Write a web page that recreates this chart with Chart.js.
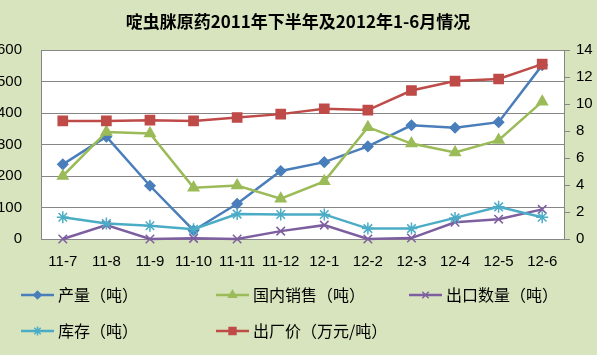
<!DOCTYPE html>
<html>
<head>
<meta charset="utf-8">
<script src="https://cdn.jsdelivr.net/npm/chart.js@4.4.1/dist/chart.umd.min.js"></script>
<style>
html,body{margin:0;padding:0;background:#D7E4BD;}
#wrap{width:597px;height:355px;position:relative;}
</style>
</head>
<body>
<div id="wrap"><canvas id="c" width="597" height="355"></canvas></div>
<script>
const titleText = '啶虫脒原药2011年下半年及2012年1-6月情况';
const months = ['11-7','11-8','11-9','11-10','11-11','11-12','12-1','12-2','12-3','12-4','12-5','12-6'];
const production = [237, 325, 169, 27, 112, 216, 244, 294, 361, 353, 371, 552];
const domesticSales = [200, 340, 335, 163, 170, 128, 183, 355, 303, 275, 314, 436];
const exportsQty = [0, 44, 0, 2, 0, 25, 44, 0, 3, 53, 63, 94];
const inventory = [69, 49, 42, 31, 79, 78, 78, 33, 33, 67, 102, 69];
const price = [8.75, 8.75, 8.8, 8.75, 9.0, 9.25, 9.65, 9.55, 11.0, 11.7, 11.85, 12.95];
const seriesNames = ['产量（吨）','国内销售（吨）','出口数量（吨）','库存（吨）','出厂价（万元/吨）'];
const leftTicks = [0,100,200,300,400,500,600];
const rightTicks = [0,2,4,6,8,10,12,14];

const BG = '#D7E4BD';
const GRID = '#868686';
const LATIN = '"Liberation Sans", Arial, sans-serif';
const CJK = '"Noto Sans CJK SC", sans-serif';

function ds(label, data, color, style, radius, axis, order){
  return {label, data, borderColor: color, backgroundColor: color, pointStyle: style,
    pointRadius: radius, pointHoverRadius: radius, pointBorderWidth: 1.5, borderWidth: 2.5,
    yAxisID: axis, tension: 0, order, clip: false};
}

const bgPlugin = {
  id: 'bg',
  beforeDraw(chart){
    const {ctx, chartArea:a} = chart;
    ctx.save();
    ctx.fillStyle = BG;
    ctx.fillRect(0,0,chart.width,chart.height);
    ctx.fillStyle = '#FFFFFF';
    ctx.fillRect(a.left,a.top,a.right-a.left,a.bottom-a.top);
    ctx.restore();
  },
  afterDraw(chart){
    const ctx = chart.ctx;
    ctx.save();
    ctx.fillStyle = '#000';
    ctx.font = 'bold 17px ' + CJK;
    ctx.textAlign = 'center';
    ctx.textBaseline = 'middle';
    ctx.fillText(titleText, 298, 22);
    const pos = [[21,295],[216,295],[409,295],[21,331],[216,331]];
    chart.data.datasets.forEach((d,i)=>{
      const [x,y] = pos[i];
      ctx.strokeStyle = d.borderColor;
      ctx.lineWidth = 2.5;
      ctx.beginPath(); ctx.moveTo(x,y); ctx.lineTo(x+33,y); ctx.stroke();
      ctx.fillStyle = d.backgroundColor;
      ctx.lineWidth = 1.5;
      Chart.helpers.drawPoint(ctx, {pointStyle: d.pointStyle, radius: d.pointRadius*0.75, borderWidth: 1.5, rotation: 0}, x+16.5, y);
      ctx.fillStyle = '#000';
      ctx.font = '16px ' + CJK;
      ctx.textAlign = 'left';
      ctx.textBaseline = 'middle';
      ctx.fillText(d.label, x+37, y);
    });
    ctx.restore();
  }
};

new Chart(document.getElementById('c'), {
  type: 'line',
  data: {
    labels: months,
    datasets: [
      ds(seriesNames[0], production, '#4A7EBB', 'rectRot', 5, 'y', 4),
      ds(seriesNames[1], domesticSales, '#9BBB59', 'triangle', 6, 'y', 3),
      ds(seriesNames[2], exportsQty, '#7D5FA0', 'crossRot', 6, 'y', 2),
      ds(seriesNames[3], inventory, '#4BACC6', 'star', 6, 'y', 1),
      ds(seriesNames[4], price, '#BE4B48', 'rect', 6.5, 'y1', 0)
    ]
  },
  options: {
    responsive: false,
    animation: false,
    devicePixelRatio: 1,
    layout: {padding: {top: 50, bottom: 76, left: 0, right: 0}},
    plugins: {legend: {display: false}, title: {display: false}, tooltip: {enabled: false}},
    scales: {
      x: {
        offset: true,
        grid: {display: false, drawTicks: false},
        border: {display: true, color: GRID, width: 1},
        ticks: {font: {family: LATIN, size: 15}, color: '#000', maxRotation: 0, autoSkip: false, padding: 14},
        afterFit(s){ s.height = 40; }
      },
      y: {
        position: 'left',
        min: 0, max: 600,
        afterBuildTicks(s){ s.ticks = leftTicks.map(v=>({value:v})); },
        grid: {color: GRID, lineWidth: 1, drawTicks: false},
        border: {display: true, color: GRID, width: 1},
        ticks: {font: {family: LATIN, size: 15}, color: '#000', padding: 19},
        afterFit(s){ s.width = 41; }
      },
      y1: {
        position: 'right',
        min: 0, max: 14,
        afterBuildTicks(s){ s.ticks = rightTicks.map(v=>({value:v})); },
        grid: {drawOnChartArea: false, drawTicks: true, tickLength: 6, color: GRID},
        border: {display: true, color: GRID, width: 1},
        ticks: {font: {family: LATIN, size: 15}, color: '#000', padding: 6},
        afterFit(s){ s.width = 33; }
      }
    }
  },
  plugins: [bgPlugin]
});
</script>
</body>
</html>
